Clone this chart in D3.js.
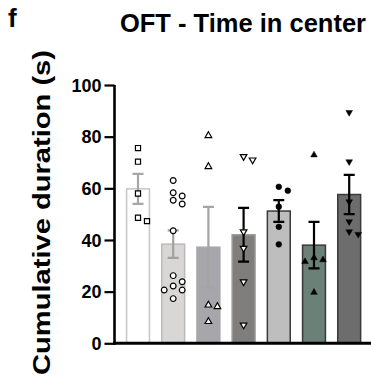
<!DOCTYPE html>
<html>
<head>
<meta charset="utf-8">
<script src="https://cdn.jsdelivr.net/npm/d3@7"></script>
<style>
  body { margin: 0; background: #fff; }
  text { font-family: "Liberation Sans", Arial, sans-serif; font-weight: bold; fill: #000; }
</style>
</head>
<body>
<div id="chart"></div>
<script>
// groups (no x labels in the figure)
var groups = ["G1", "G2", "G3", "G4", "G5", "G6", "G7"];

// individual animals (s)
var pts1 = [75.6, 70.3, 58.0, 47.3, 48.6];
var pts2 = [63.0, 58.3, 57.0, 55.4, 53.9, 43.6, 26.2, 23.8, 22.2, 20.6, 20.6, 17.3];
var pts3 = [80.4, 68.4, 14.8, 14.2, 8.4];
var pts4 = [72.3, 71.0, 43.2, 36.8, 23.8, 7.1];
var pts5 = [60.6, 59.1, 52.9, 45.1, 38.3];
var pts6 = [72.9, 33.1, 32.3, 31.6, 19.7];
var pts7 = [89.4, 70.3, 54.8, 47.1, 43.2, 42.2];
var points = [pts1, pts2, pts3, pts4, pts5, pts6, pts7];

// mean and SEM
var means = [59.8, 38.4, 37.2, 42.0, 51.2, 38.0, 57.6];
var sems = [5.8, 5.3, 15.6, 10.4, 4.2, 9.0, 7.6];

var yTicks = [0, 20, 40, 60, 80, 100];

// look of each group
var fills   = ["#ffffff", "#d9d6d6", "#a7a6aa", "#807e7d", "#bebebe", "#6b8077", "#6e6d6d"];
var strokes = ["#c6c6c6", "#bdbaba", "#a7a6aa", "#9a9898", "#3a3a3a", "#3a3a3a", "#3a3a3a"];
var errCol  = ["#a6a6a6", "#a0a0a0", "#a4a4a4", "#000", "#000", "#000", "#000"];
var shapes  = ["square", "circle", "up", "down", "circle", "up", "down"];
var open    = [true, true, true, true, false, false, false];

var W = 371, H = 381;
var svg = d3.select("#chart").append("svg")
    .attr("width", W)
    .attr("height", H);

var x = d3.scaleBand()
    .domain(groups)
    .range([120.4, 366.8])
    .paddingInner(0.35)
    .paddingOuter(0.175);

var y = d3.scaleLinear()
    .domain([0, 100])
    .range([343.3, 85]);

// bars
svg.selectAll(".bar")
    .data(groups)
    .enter().append("rect")
    .attr("class", "bar")
    .attr("x", function(d) { return x(d); })
    .attr("width", x.bandwidth())
    .attr("y", function(d, i) { return y(means[i]); })
    .attr("height", function(d, i) { return y(0) - y(means[i]); })
    .style("fill", function(d, i) { return fills[i]; })
    .style("stroke", function(d, i) { return strokes[i]; })
    .style("stroke-width", 1.5);

// error bars
var capW = 11;
var err = svg.selectAll(".err")
    .data(groups)
    .enter().append("g")
    .attr("class", "err")
    .style("stroke", function(d, i) { return errCol[i]; })
    .style("stroke-width", 2.2)
    .style("fill", "none");

err.append("path")
    .attr("d", function(d, i) {
        var cx = x(d) + x.bandwidth() / 2;
        var hi = y(means[i] + sems[i]), lo = y(means[i] - sems[i]);
        return "M" + cx + "," + hi + "V" + lo +
            "M" + (cx - capW / 2) + "," + hi + "H" + (cx + capW / 2) +
            "M" + (cx - capW / 2) + "," + lo + "H" + (cx + capW / 2);
    });

// simple beeswarm: spread points that would collide
var step = 9, minDist = 6.5;
function swarm(vals) {
    var placed = [];
    var order = vals.map(function(v, i) { return i; })
        .sort(function(a, b) { return vals[b] - vals[a]; });
    var out = [];
    order.forEach(function(i) {
        var py = y(vals[i]);
        var cands = [0, 1, -1, 2, -2];
        for (var k = 0; k < cands.length; k++) {
            var px = cands[k] * step;
            var ok = placed.every(function(p) {
                return Math.hypot(p[0] - px, p[1] - py) >= minDist;
            });
            if (ok || k === cands.length - 1) {
                placed.push([px, py]);
                out.push({ dx: px, v: vals[i] });
                break;
            }
        }
    });
    return out;
}

var symTypes = {
    square: d3.symbol().type(d3.symbolSquare).size(26),
    circle: d3.symbol().type(d3.symbolCircle).size(26),
    up: d3.symbol().type(d3.symbolTriangle).size(19),
    down: d3.symbol().type(d3.symbolTriangle).size(19)
};

groups.forEach(function(g, i) {
    var cx = x(g) + x.bandwidth() / 2;
    svg.append("g").selectAll("path")
        .data(swarm(points[i]))
        .enter().append("path")
        .attr("d", symTypes[shapes[i]]())
        .attr("transform", function(d) {
            return "translate(" + (cx + d.dx) + "," + y(d.v) + ")" +
                (shapes[i] === "down" ? " rotate(180)" : "");
        })
        .style("fill", open[i] ? "#fff" : "#000")
        .style("stroke", "#000")
        .style("stroke-width", open[i] ? 1.2 : 0.5);
});

// axes
var yAxis = d3.axisLeft(y).tickValues(yTicks).tickSize(10).tickPadding(3);
var gy = svg.append("g")
    .attr("transform", "translate(114.5,0)")
    .call(yAxis);
gy.select(".domain").attr("d", "M0," + y(100) + "V" + (y(0) + 1.5))
    .style("stroke", "#000").style("stroke-width", 2.6);
gy.selectAll(".tick line").style("stroke", "#000").style("stroke-width", 2.2);
gy.selectAll(".tick text")
    .style("font-size", "18px")
    .style("font-family", "'Liberation Sans', Arial, sans-serif")
    .style("font-weight", "bold")
    .attr("dy", "0.35em");

svg.append("line")
    .attr("x1", 113.2).attr("x2", W)
    .attr("y1", y(0)).attr("y2", y(0))
    .style("stroke", "#000").style("stroke-width", 3);

// labels
svg.append("text")
    .attr("x", 8).attr("y", 27)
    .style("font-size", "26px")
    .text("f");

svg.append("text")
    .attr("x", 243).attr("y", 32)
    .attr("text-anchor", "middle")
    .style("font-size", "25.5px")
    .text("OFT - Time in center");

svg.append("text")
    .attr("transform", "translate(50,212.5) rotate(-90)")
    .attr("text-anchor", "middle")
    .attr("textLength", 325)
    .attr("lengthAdjust", "spacingAndGlyphs")
    .style("font-size", "23.5px")
    .text("Cumulative duration (s)");
</script>
</body>
</html>
